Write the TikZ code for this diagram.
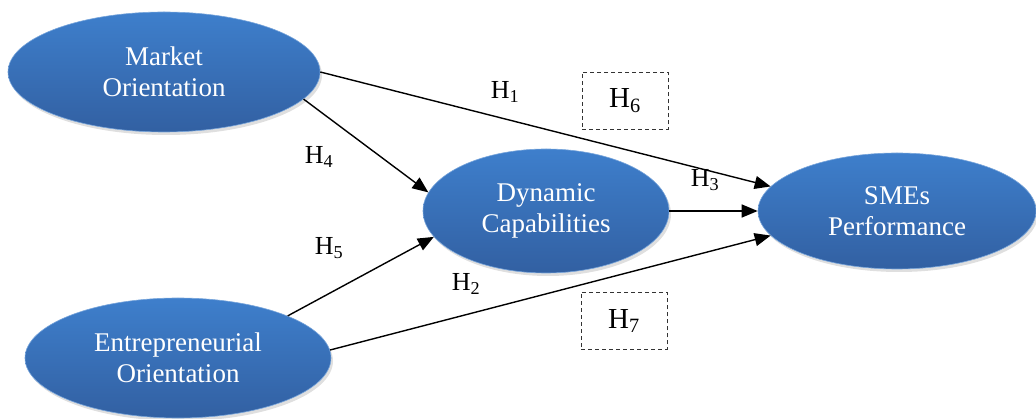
\documentclass[tikz,border=0pt]{standalone}
\usepackage{fontspec}
\setmainfont{Liberation Serif}
\usepackage{xcolor}
\usetikzlibrary{shapes.geometric,arrows.meta,shadows}
\definecolor{constructtop}{RGB}{62,127,204}
\definecolor{constructbottom}{RGB}{50,96,162}
\newcommand{\hyp}[1]{H\textsubscript{#1}}

\begin{document}
\begin{tikzpicture}[
        x=1pt, y=-1pt,
        construct_node/.style={
            ellipse,
            top color=constructtop,
            bottom color=constructbottom,
            draw=constructtop!70!white,
            line width=0.6pt,
            text=white,
            align=center,
            inner sep=0pt,
            font=\fontsize{27}{31}\selectfont,
            drop shadow={opacity=0.25, shadow xshift=2pt, shadow yshift=-3pt}
        },
        hyp_label/.style={
            inner sep=1pt,
            font=\fontsize{26}{30}\selectfont
        },
        hyp_box/.style={
            draw=black!80,
            dashed,
            dash pattern=on 4pt off 3pt,
            line width=0.8pt,
            minimum width=86pt,
            minimum height=57pt,
            font=\fontsize{29}{33}\selectfont
        },
        path_arrow/.style={
            draw=black,
            line width=1.4pt,
            -{Triangle[length=16pt,width=13pt]}
        }
    ]
        \useasboundingbox (0,0) rectangle (1036,419);

        % Constructs
        \node[construct_node, minimum width=312pt, minimum height=120pt] (mo)  at (164, 72)  {Market\\Orientation};
        \node[construct_node, minimum width=306pt, minimum height=120pt] (eo)  at (178, 358) {Entrepreneurial\\Orientation};
        \node[construct_node, minimum width=246pt, minimum height=124pt] (dc)  at (546, 211) {Dynamic\\Capabilities};
        \node[construct_node, minimum width=278pt, minimum height=116pt] (sme) at (897, 211) {SMEs\\Performance};

        % Paths
        \draw[path_arrow] (mo.east) -- (sme.169);
        \draw[path_arrow] (mo.-11)  -- (dc.171);
        \draw[path_arrow] (eo.21)   -- (dc.193);
        \draw[path_arrow] (eo.3)    -- (sme.191);
        \draw[path_arrow] (dc.east) -- (sme.west);

        % Hypotheses
        \node[hyp_label] (h1) at (505, 92)  {\hyp{1}};
        \node[hyp_label] (h2) at (466, 284) {\hyp{2}};
        \node[hyp_label] (h3) at (705, 180) {\hyp{3}};
        \node[hyp_label] (h4) at (319, 157) {\hyp{4}};
        \node[hyp_label] (h5) at (329, 248) {\hyp{5}};
        \node[hyp_box]   (h6) at (625, 101) {\hyp{6}};
        \node[hyp_box]   (h7) at (624, 321) {\hyp{7}};
    \end{tikzpicture}
\end{document}
